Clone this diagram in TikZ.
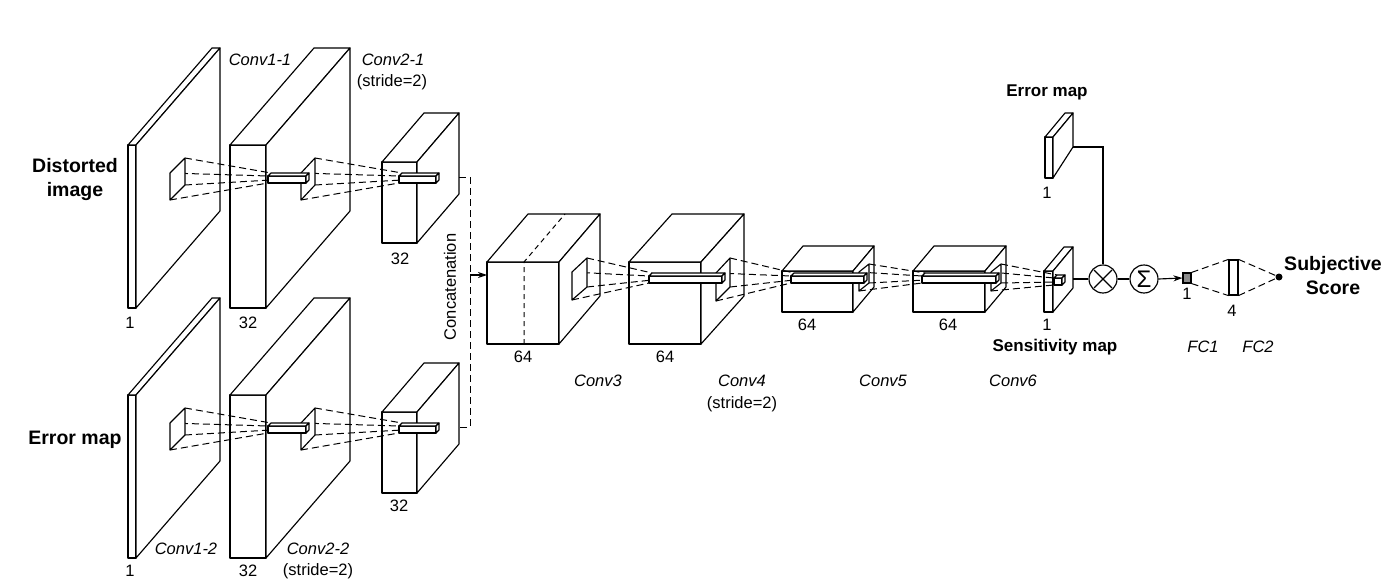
\documentclass[tikz,border=0pt]{standalone}
\usepackage{fontspec}
\setmainfont{Liberation Sans}
\usetikzlibrary{arrows.meta}
\tikzset{
  bl/.style={draw=black, fill=white, line width=1.15pt, line join=round},
  dsh/.style={line width=1pt, dash pattern=on 7pt off 4pt},
  ln/.style={line width=1.15pt},
  arr/.style={line width=1.15pt, -{Stealth[length=9pt,width=6pt]}},
  lab/.style={font=\fontsize{16.5}{19}\selectfont, inner sep=0pt},
  ilab/.style={font=\fontsize{16.5}{19}\selectfont\itshape, inner sep=0pt},
  blab/.style={font=\fontsize{19.5}{24}\selectfont\bfseries, align=center, inner sep=0pt},
  slab/.style={font=\fontsize{17}{20}\selectfont\bfseries, inner sep=0pt},
  opc/.style={circle, draw, fill=white, line width=1.15pt, minimum size=28pt, inner sep=0pt},
}
% block: front x1 x2, y top, y bottom, depth dx dy
\newcommand{\blk}[6]{%
  \filldraw[bl] (#1,#3) rectangle (#2,#4);
  \filldraw[bl] (#1,#3) -- ({#1+#5},{#3-#6}) -- ({#2+#5},{#3-#6}) -- (#2,#3) -- cycle;
  \filldraw[bl] (#2,#3) -- ({#2+#5},{#3-#6}) -- ({#2+#5},{#4-#6}) -- (#2,#4) -- cycle;}
% patch: xl xr ylt ylb yrt yrb
\newcommand{\ptch}[6]{%
  \filldraw[bl] (#1,#3) -- (#2,#5) -- (#2,#6) -- (#1,#4) -- cycle;}
% rays: patch corners to bar start (bx, by)
\newcommand{\rays}[8]{%
  \draw[dsh] (#2,#5) -- ({#7+3},{#8-3});
  \draw[dsh] (#1,#3) -- (#7,#8);
  \draw[dsh] (#2,#6) -- ({#7+3},{#8+4});
  \draw[dsh] (#1,#4) -- (#7,{#8+7});}
\newcommand{\branch}{%
  \blk{128}{136}{145}{308}{84}{97}
  \blk{230}{266}{145}{308}{84}{97}
  \blk{382}{417}{162}{243}{42}{49}
  \rays{170}{185}{173}{200}{158}{185}{268}{176}
  \rays{301}{315}{173}{200}{158}{185}{399}{176}
  \ptch{170}{185}{173}{200}{158}{185}
  \ptch{301}{315}{173}{200}{158}{185}
  \blk{268}{306}{176}{183}{3}{3}
  \blk{399}{436}{176}{183}{3}{3}}
\begin{document}
\begin{tikzpicture}[x=1pt,y=-1pt]
\path[use as bounding box] (0,0) rectangle (1400,583);
% two input branches
\branch
\begin{scope}[yshift=-250pt]
\branch
\end{scope}
% concatenation
\coordinate (b1r) at (459,177);
\coordinate (b2r) at (459,427);
\coordinate (ct) at (470,177);
\coordinate (cb) at (470,427);
\coordinate (cm) at (470,275);
\coordinate (c3l) at (487,275);
\draw[dsh] (b1r) -- (ct) -- (cb) -- (b2r);
\draw[arr] (cm) -- (c3l);
% main chain blocks
\blk{487}{559}{262}{344}{41}{48}
\blk{629}{701}{262}{344}{43}{48}
\blk{782}{853}{271}{312}{21}{25}
\blk{913}{985}{271}{312}{21}{25}
\blk{1044}{1053}{271}{312}{20}{24}
% split line in Conv3
\draw[dsh, dash pattern=on 5pt off 4pt] (524,344) -- (524,262) -- (565,214);
% rays
\rays{572}{587}{272}{300}{258}{287}{649}{276}
\rays{716}{730}{273}{301}{258}{287}{791}{276}
\rays{859}{869}{272}{291}{264}{283}{922}{276}
\rays{991}{1001}{272}{291}{264}{283}{1054}{278}
% patches
\ptch{572}{587}{272}{300}{258}{287}
\ptch{716}{730}{273}{301}{258}{287}
\ptch{859}{869}{272}{291}{264}{283}
\ptch{991}{1001}{272}{291}{264}{283}
% bars
\blk{649}{722}{276}{283}{3}{3}
\blk{791}{864}{276}{283}{3}{3}
\blk{922}{996}{276}{283}{3}{3}
\blk{1054}{1062}{278}{285}{3}{3}
% error map (top)
\filldraw[bl] (1045,137) rectangle (1053,178);
\filldraw[bl] (1045,137) -- (1065,113) -- (1073,113) -- (1053,137) -- cycle;
\filldraw[bl] (1053,137) -- (1073,113) -- (1073,147) -- (1053,178) -- cycle;
% operators
\node[opc] (mul) at (1103,279) {};
\draw[ln] ([shift={(-9pt,-9pt)}]mul.center) -- ([shift={(9pt,9pt)}]mul.center);
\draw[ln] ([shift={(-9pt,9pt)}]mul.center) -- ([shift={(9pt,-9pt)}]mul.center);
\node[opc, font=\fontsize{24}{24}\selectfont] (sum) at (1144,279) {Σ};
\coordinate (sensr) at (1073,279);
\coordinate (errr) at (1073,147);
\draw[ln] (sensr) -- (mul.west);
\draw[ln] (errr) -- (mul.north |- errr) -- (mul.north);
\draw[ln] (mul.east) -- (sum.west);
% FC layers
\node[draw, line width=1.15pt, fill=black!45, minimum width=8pt, minimum height=10pt, inner sep=0pt] (fc1) at (1187,278) {};
\node[draw, line width=1.15pt, fill=white, minimum width=9pt, minimum height=35pt, inner sep=0pt] (fc2) at (1233.5,277.5) {};
\node[circle, fill=black, minimum size=7pt, inner sep=0pt] (out) at (1279,277) {};
\draw[arr] (sum.east) -- (fc1.west);
\draw[dsh] (fc1.north east) -- (fc2.north west);
\draw[dsh] (fc1.south east) -- (fc2.south west);
\draw[dsh] (fc2.north east) -- (out);
\draw[dsh] (fc2.south east) -- (out);
% labels
\node[blab] (ldist) at (75,180) {Distorted\\image};
\node[blab] (lerr) at (75,440) {Error map};
\node[lab] (n1a) at (130,323) {1};
\node[lab] (n32a) at (248,323) {32};
\node[lab] (n32b) at (400,259) {32};
\node[ilab] (lc11) at (260,60) {Conv1-1};
\node[ilab] (lc21) at (393,60) {Conv2-1};
\node[lab] (ls21) at (392,82) {(stride=2)};
\node[lab] (n1b) at (130,571) {1};
\node[lab] (n32c) at (248,571) {32};
\node[lab] (n32d) at (399,506) {32};
\node[ilab] (lc12) at (186,549) {Conv1-2};
\node[ilab] (lc22) at (318,549) {Conv2-2};
\node[lab] (ls22) at (318,571) {(stride=2)};
\node[lab, rotate=90] (lcat) at (450,287) {Concatenation};
\node[lab] (n64a) at (523,357) {64};
\node[lab] (n64b) at (665,357) {64};
\node[lab] (n64c) at (807,325) {64};
\node[lab] (n64d) at (948,325) {64};
\node[lab] (n1s) at (1047,325) {1};
\node[slab] (lsens) at (1055,347) {Sensitivity map};
\node[ilab] (lc3) at (598,381) {Conv3};
\node[ilab] (lc4) at (742,381) {Conv4};
\node[lab] (ls4) at (742,404) {(stride=2)};
\node[ilab] (lc5) at (883,381) {Conv5};
\node[ilab] (lc6) at (1013,381) {Conv6};
\node[slab] (lerrt) at (1047,92) {Error map};
\node[lab] (n1e) at (1047,193) {1};
\node[lab] (n1f) at (1187,294) {1};
\node[lab] (n4) at (1232,311) {4};
\node[ilab] (lfc1) at (1203,347) {FC1};
\node[ilab] (lfc2) at (1258,347) {FC2};
\node[blab] (lsubj) at (1333,276) {Subjective\\Score};
\end{tikzpicture}
\end{document}
